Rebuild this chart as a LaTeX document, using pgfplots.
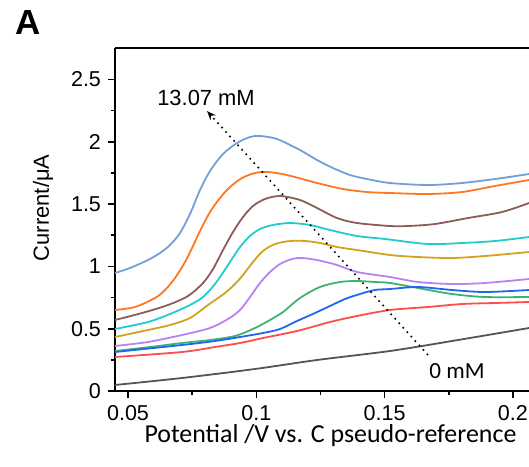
\documentclass[border=0pt]{standalone}
\usepackage{pgfplots}
\pgfplotsset{compat=1.18}
\usetikzlibrary{arrows.meta}
\usepackage{fontspec}
\setmainfont{Liberation Sans}
\newfontfamily\carlito{Carlito}
\definecolor{cSteel}{RGB}{114,160,214}
\definecolor{cOrange}{RGB}{255,119,34}
\definecolor{cBrown}{RGB}{140,92,86}
\definecolor{cCyan}{RGB}{34,204,204}
\definecolor{cGold}{RGB}{212,162,32}
\definecolor{cPurple}{RGB}{184,131,240}
\definecolor{cGreen}{RGB}{60,179,113}
\definecolor{cBlue}{RGB}{34,102,238}
\definecolor{cRed}{RGB}{255,77,77}
\definecolor{cGray}{RGB}{85,85,85}
\begin{document}
\begin{tikzpicture}
\useasboundingbox (0,0) rectangle (264.5bp,233.5bp);
\node[anchor=base west, inner sep=0, font=\fontsize{17.5}{20}\selectfont\bfseries] at (7.5bp,216bp) {A};
\begin{axis}[
 name=ax,
 at={(57.5bp,38bp)}, anchor=south west,
 scale only axis, width=207bp, height=171.5bp,
 xmin=0.04493, xmax=0.20627, ymin=0, ymax=2.753,
 axis lines*=left,
 axis line style={line width=0.9bp, black},
 tick align=outside,
 major tick length=3.5bp, minor tick length=2bp,
 every tick/.style={line width=0.8bp, black},
 xtick={0.05,0.1,0.15,0.2}, xticklabels={0.05,0.1,0.15,0.2},
 ytick={0,0.5,1,1.5,2,2.5}, yticklabels={0,0.5,1,1.5,2,2.5},
 minor x tick num=1, minor y tick num=1,
 tick label style={font=\fontsize{10.8}{13}\selectfont},
 /pgf/number format/assume math mode=true,
 xlabel={Potential /V vs. C pseudo-reference},
 xlabel style={font=\carlito\fontsize{13}{15}\selectfont, at={(axis description cs:0.5205,-0.1487)}, anchor=base},
 ylabel={Current/μA},
 ylabel style={font=\fontsize{11}{13}\selectfont, at={(axis description cs:-0.174,0.534)}, anchor=center},
 clip=true,
 every axis plot/.append style={line width=0.9bp, smooth},
]
\addplot[cSteel] coordinates {(0.04493,0.9470)(0.05078,0.9872)(0.05779,1.0514)(0.06247,1.1075)(0.06637,1.1718)(0.07026,1.2681)(0.07416,1.4205)(0.07806,1.6132)(0.08196,1.7657)(0.08702,1.9021)(0.09248,1.9904)(0.09754,2.0385)(0.10144,2.0466)(0.10807,2.0225)(0.11703,1.9342)(0.12366,1.8539)(0.12989,1.7897)(0.13652,1.7336)(0.14314,1.7014)(0.15210,1.6693)(0.16691,1.6533)(0.18016,1.6693)(0.19302,1.7014)(0.20627,1.7416)};
\addplot[cOrange] coordinates {(0.04493,0.6501)(0.05273,0.6742)(0.06052,0.7464)(0.06442,0.8106)(0.06832,0.9069)(0.07221,1.0353)(0.07533,1.1637)(0.07806,1.2841)(0.08196,1.4366)(0.08585,1.5490)(0.08975,1.6372)(0.09443,1.7095)(0.09949,1.7496)(0.10456,1.7576)(0.11196,1.7336)(0.12366,1.6693)(0.13379,1.6212)(0.14314,1.5971)(0.15210,1.5891)(0.16691,1.5811)(0.18016,1.5971)(0.19302,1.6453)(0.20627,1.6934)};
\addplot[cBrown] coordinates {(0.04493,0.5698)(0.05546,0.6260)(0.06559,0.6902)(0.07338,0.7624)(0.07923,0.8668)(0.08313,0.9791)(0.08702,1.1316)(0.09092,1.2761)(0.09482,1.3965)(0.09871,1.4848)(0.10339,1.5409)(0.10924,1.5650)(0.11703,1.5329)(0.12366,1.4687)(0.13145,1.3884)(0.13924,1.3483)(0.15210,1.3242)(0.15912,1.3242)(0.16964,1.3403)(0.18250,1.3884)(0.19575,1.4366)(0.20627,1.5088)};
\addplot[cCyan] coordinates {(0.04493,0.4976)(0.05779,0.5538)(0.06637,0.6180)(0.07416,0.6902)(0.07923,0.7544)(0.08390,0.8588)(0.08897,1.0112)(0.09365,1.1557)(0.09754,1.2440)(0.10144,1.3002)(0.10651,1.3323)(0.11313,1.3483)(0.12093,1.3323)(0.12872,1.2921)(0.13924,1.2440)(0.15016,1.2199)(0.16691,1.1798)(0.18016,1.1878)(0.19302,1.2039)(0.20627,1.2360)};
\addplot[cGold] coordinates {(0.04493,0.4334)(0.05779,0.4896)(0.06637,0.5297)(0.07416,0.5859)(0.08118,0.6902)(0.08780,0.7865)(0.09170,0.8588)(0.09482,0.9310)(0.09871,1.0353)(0.10261,1.1236)(0.10729,1.1798)(0.11313,1.2039)(0.11898,1.2039)(0.12482,1.1878)(0.13145,1.1557)(0.13924,1.1316)(0.15210,1.0915)(0.16302,1.0754)(0.17627,1.0674)(0.18913,1.0835)(0.20627,1.1156)};
\addplot[cPurple] coordinates {(0.04493,0.3612)(0.05779,0.3933)(0.07104,0.4494)(0.08196,0.5056)(0.08897,0.5779)(0.09365,0.6501)(0.09754,0.7544)(0.10144,0.8668)(0.10534,0.9551)(0.10924,1.0193)(0.11391,1.0594)(0.11781,1.0674)(0.12366,1.0514)(0.13145,1.0112)(0.13924,0.9551)(0.15210,0.9149)(0.16302,0.8748)(0.17627,0.8588)(0.18913,0.8668)(0.20627,0.8989)};
\addplot[cGreen] coordinates {(0.04493,0.3210)(0.05857,0.3531)(0.07104,0.3852)(0.08196,0.4093)(0.09170,0.4414)(0.09949,0.5056)(0.10534,0.5698)(0.11041,0.6340)(0.11703,0.7464)(0.12482,0.8347)(0.13262,0.8748)(0.13924,0.8828)(0.14626,0.8748)(0.15210,0.8668)(0.16302,0.8266)(0.17627,0.7785)(0.18913,0.7544)(0.20627,0.7544)};
\addplot[cBlue] coordinates {(0.04493,0.3130)(0.07104,0.3692)(0.08390,0.4013)(0.09365,0.4334)(0.10261,0.4655)(0.10924,0.4976)(0.11586,0.5618)(0.12288,0.6260)(0.12872,0.6822)(0.13457,0.7384)(0.14041,0.7785)(0.14626,0.8106)(0.15210,0.8186)(0.16302,0.8347)(0.17627,0.8106)(0.18913,0.7945)(0.20627,0.8106)};
\addplot[cRed] coordinates {(0.04493,0.2729)(0.07104,0.3130)(0.08390,0.3531)(0.09365,0.3852)(0.10261,0.4254)(0.11586,0.4815)(0.12872,0.5538)(0.13924,0.6019)(0.15210,0.6501)(0.16691,0.6742)(0.18016,0.6982)(0.19302,0.7063)(0.20627,0.7143)};
\addplot[cGray] coordinates {(0.04493,0.0482)(0.07104,0.1043)(0.09949,0.1766)(0.12366,0.2488)(0.15210,0.3210)(0.17627,0.4013)(0.20627,0.5056)};
\draw[line width=0.8bp, dash pattern=on 0.8bp off 2.2bp, -{Stealth[length=4.5bp,width=3.5bp]}] (axis cs:0.1669,0.289) -- (axis cs:0.0808,2.247);
\node[anchor=base, inner sep=0, font=\fontsize{11}{13}\selectfont] at (axis cs:0.0804,2.2954) {13.07 mM};
\node[anchor=base, inner sep=0, font=\carlito\fontsize{11.6}{13}\selectfont] at (axis cs:0.17822,0.1043) {0 mM};
\end{axis}
\draw[line width=0.9bp, black] (ax.north west) -- (ax.north east);
\end{tikzpicture}
\end{document}
